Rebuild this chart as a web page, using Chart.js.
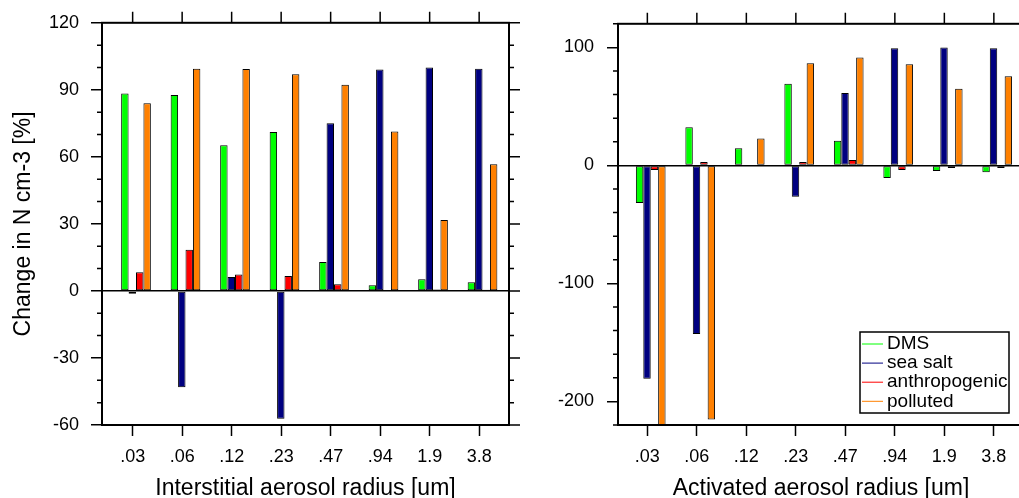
<!DOCTYPE html>
<html>
<head>
<meta charset="utf-8">
<script src="https://cdn.jsdelivr.net/npm/chart.js@4.4.0/dist/chart.umd.min.js"></script>
<style>
  html, body { margin: 0; padding: 0; background: #fff; overflow: hidden; }
  body { width: 1019px; height: 498px; position: relative; }
  .box { position: absolute; top: 0; width: 525px; height: 504px; }
  #leftBox { left: 0; }
  #rightBox { left: 520px; }
</style>
</head>
<body>
<div id="leftBox" class="box"><canvas id="leftChart" width="525" height="504"></canvas></div>
<div id="rightBox" class="box"><canvas id="rightChart" width="525" height="504"></canvas></div>
<script>
const radiusLabels = [".03", ".06", ".12", ".23", ".47", ".94", "1.9", "3.8"];
const seriesNames = ["DMS", "sea salt", "anthropogenic", "polluted"];
const seriesColors = ["#00ff00", "#000080", "#ff0000", "#ff8000"];

// interstitial aerosol (left panel), change in %
const interDMS = [88.4, 87.7, 65.2, 71.1, 13.0, 2.5, 5.2, 3.9];
const interSeaSalt = [-1.3, -43.1, 6.2, -57.2, 75.0, 99.1, 100.0, 99.4];
const interAnthro = [8.4, 18.4, 7.4, 6.7, 3.0, 0.2, 0.6, 0.5];
const interPolluted = [84.0, 99.4, 99.3, 97.0, 92.3, 71.4, 31.7, 56.7];

// activated aerosol (right panel), change in %
const actDMS = [-31.8, 32.4, 14.6, 69.2, 20.9, -10.6, -4.7, -5.8];
const actSeaSalt = [-180.7, -142.8, 0, -26.5, 61.4, 99.3, 99.9, 99.3];
const actAnthro = [-3.9, 2.8, 0, 2.8, 4.5, -3.9, -2.2, -2.2];
const actPolluted = [-235, -215.3, 22.9, 86.5, 91.5, 85.7, 65.0, 75.6];

const leftYTicks = [-60, -30, 0, 30, 60, 90, 120];
const rightYTicks = [-200, -100, 0, 100];

Chart.defaults.font.family = '"Liberation Sans", Arial, sans-serif';
Chart.defaults.color = '#000';

const tickShift = -0.068; // NCL puts the bar groups slightly right of the tick

// frame, minor ticks, mirrored ticks on right/top
const frameTicks = {
  id: 'frameTicks',
  afterDatasetsDraw(chart, args, opts) {
    const { ctx, chartArea: a, scales: { x, y } } = chart;
    const majors = y.ticks.map(t => t.value);
    ctx.save();
    ctx.strokeStyle = '#000';
    ctx.lineWidth = 1.5;
    ctx.beginPath();
    for (let k = 0; ; k++) {
      const v = y.min + k * opts.minor;
      if (v > y.max + 1e-6) break;
      const py = y.getPixelForValue(v);
      const isMajor = majors.includes(v);
      if (!isMajor) {
        ctx.moveTo(a.left - 5, py);
        ctx.lineTo(a.left, py);
      }
      ctx.moveTo(a.right, py);
      ctx.lineTo(a.right + (isMajor ? 11 : 5), py);
    }
    x.ticks.forEach(t => {
      const px = x.getPixelForValue(t.value);
      ctx.moveTo(px, a.top);
      ctx.lineTo(px, a.top - 11);
    });
    ctx.stroke();
    ctx.lineWidth = 2;
    ctx.strokeRect(a.left, a.top, a.right - a.left, a.bottom - a.top);
    ctx.restore();
  }
};

// boxed legend inside the plot, lower right
const boxLegend = {
  id: 'boxLegend',
  afterDraw(chart, args, opts) {
    if (!opts.show) return;
    const { ctx, chartArea: a } = chart;
    const w = 149, h = 81;
    const bx = a.right - 15 - w, by = a.bottom - 12 - h;
    ctx.save();
    ctx.fillStyle = '#fff';
    ctx.fillRect(bx, by, w, h);
    ctx.strokeStyle = '#000';
    ctx.lineWidth = 1.5;
    ctx.strokeRect(bx, by, w, h);
    ctx.font = '19px "Liberation Sans"';
    ctx.textBaseline = 'middle';
    chart.data.datasets.forEach((ds, i) => {
      const cy = by + 12 + i * 19.1;
      ctx.strokeStyle = ds.backgroundColor;
      ctx.lineWidth = 1;
      ctx.beginPath();
      ctx.moveTo(bx + 2, cy);
      ctx.lineTo(bx + 23, cy);
      ctx.stroke();
      ctx.fillStyle = '#000';
      ctx.fillText(ds.label, bx + 27, cy);
    });
    ctx.restore();
  }
};

function makeDatasets(seriesList) {
  return seriesList.map((vals, i) => ({
    label: seriesNames[i],
    data: vals.map((v, j) => ({ x: j + 1, y: v })),
    backgroundColor: seriesColors[i],
    borderColor: '#000',
    borderWidth: 1,
    borderSkipped: false,
    categoryPercentage: 0.6,
    barPercentage: 1.0,
    clip: 0
  }));
}

function makeChart(canvasId, seriesList, cfg) {
  const ctx = document.getElementById(canvasId).getContext('2d');
  return new Chart(ctx, {
    type: 'bar',
    data: { datasets: makeDatasets(seriesList) },
    plugins: [frameTicks, boxLegend],
    options: {
      responsive: false,
      animation: false,
      devicePixelRatio: 1,
      layout: { padding: { top: 20, right: cfg.padRight, left: 0, bottom: 0 } },
      plugins: {
        legend: { display: false },
        tooltip: { enabled: false },
        frameTicks: { minor: cfg.minor },
        boxLegend: { show: cfg.legend }
      },
      scales: {
        x: {
          type: 'linear',
          offset: false,
          min: cfg.xMin,
          max: cfg.xMax,
          afterBuildTicks: s => { s.ticks = radiusLabels.map((_, i) => ({ value: i + 1 + tickShift })); },
          afterFit: s => { s.height = 79; },
          grid: { offset: false, drawOnChartArea: false, drawTicks: true, tickLength: 11, tickColor: '#000', tickWidth: 1.5 },
          border: { display: false },
          ticks: {
            font: { size: 18 },
            padding: 10,
            maxRotation: 0,
            autoSkip: false,
            callback: v => radiusLabels[Math.round(v) - 1]
          },
          title: {
            display: true,
            text: cfg.xTitle,
            font: { size: 23 },
            padding: { top: 0, bottom: 2 }
          }
        },
        y: {
          min: cfg.yMin,
          max: cfg.yMax,
          afterBuildTicks: s => { s.ticks = cfg.yTicks.map(v => ({ value: v })); },
          afterFit: s => { s.width = cfg.yWidth; },
          grid: {
            drawOnChartArea: true,
            drawTicks: true,
            tickLength: 11,
            tickColor: '#000',
            tickWidth: 1.5,
            lineWidth: 1.5,
            color: c => (c.tick && c.tick.value === 0 ? '#000' : 'rgba(0,0,0,0)')
          },
          border: { display: false },
          ticks: { font: { size: 18 }, padding: cfg.yPad },
          title: {
            display: !!cfg.yTitle,
            text: cfg.yTitle || '',
            font: { size: 23 },
            padding: { top: 10, bottom: 0 }
          }
        }
      }
    }
  });
}

makeChart('leftChart', [interDMS, interSeaSalt, interAnthro, interPolluted], {
  xMin: 0.313, xMax: 8.535, yMin: -60, yMax: 120, yTicks: leftYTicks, minor: 10,
  yWidth: 102, yPad: 12, padRight: 16,
  xTitle: 'Interstitial aerosol radius [um]', yTitle: 'Change in N cm-3 [%]', legend: false
});

makeChart('rightChart', [actDMS, actSeaSalt, actAnthro, actPolluted], {
  xMin: 0.339, xMax: 8.541, yMin: -220, yMax: 120, yTicks: rightYTicks, minor: 20,
  yWidth: 98, yPad: 13, padRight: 21,
  xTitle: 'Activated aerosol radius [um]', yTitle: null, legend: true
});
</script>
</body>
</html>
